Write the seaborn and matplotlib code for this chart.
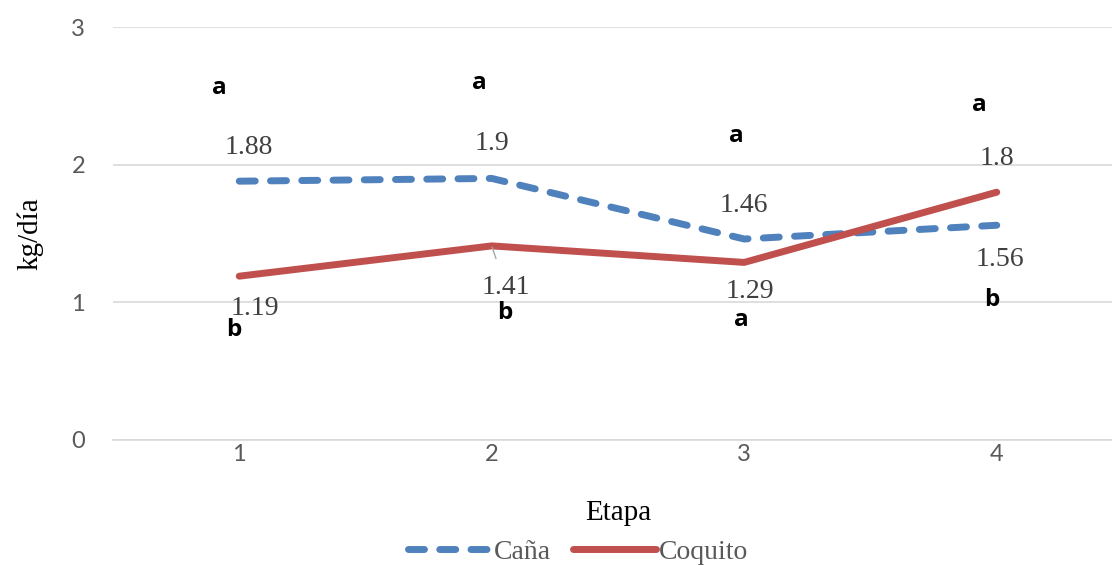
import matplotlib
matplotlib.use("Agg")
import matplotlib.pyplot as plt
import seaborn as sns
import pandas as pd
from matplotlib.lines import Line2D

etapas = [1, 2, 3, 4]
cana = [1.88, 1.90, 1.46, 1.56]
coquito = [1.19, 1.41, 1.29, 1.80]
letras_cana = ["a", "a", "a", "a"]
letras_coquito = ["b", "b", "a", "b"]
series_names = ["Caña", "Coquito"]

df = pd.DataFrame({
    "Etapa": etapas * 2,
    "kg": cana + coquito,
    "serie": [series_names[0]] * 4 + [series_names[1]] * 4,
})

sns.set_theme(style="white")
plt.rcParams["font.family"] = ["Lato", "DejaVu Sans"]

fig = plt.figure(figsize=(11.12, 5.65), dpi=100)
ax = fig.add_axes([113 / 1112, (565 - 440) / 565, (1123 - 113) / 1112, (440 - 27) / 565])

blue = "#4F81BD"
red = "#C0504D"
LW = 5.0
DASH = (2.3, 2.2)
sns.lineplot(data=df, x="Etapa", y="kg", hue="serie", style="serie",
             palette={series_names[0]: blue, series_names[1]: red},
             dashes={series_names[0]: DASH, series_names[1]: ""},
             linewidth=LW, ax=ax, legend=False)
for ln in ax.lines:
    ln.set_dash_capstyle("round")
    ln.set_solid_capstyle("round")

ax.set_xlim(0.5, 4.5)
ax.set_ylim(0, 3)
ax.set_xticks(etapas)
ax.set_yticks([0, 1, 2, 3])
ax.grid(axis="y", color="#D9D9D9", linewidth=1.2)
ax.grid(axis="x", visible=False)
for s in ["top", "right", "left"]:
    ax.spines[s].set_visible(False)
ax.spines["bottom"].set_color("#D9D9D9")
ax.spines["bottom"].set_linewidth(1.2)
ax.tick_params(axis="both", length=0, labelsize=17, colors="#595959")
ax.tick_params(axis="x", pad=3)
ax.tick_params(axis="y", pad=20)
for lab in ax.get_xticklabels() + ax.get_yticklabels():
    lab.set_family(["Lato", "DejaVu Sans"])

serif = ["Liberation Serif", "DejaVu Serif"]
ax.set_xlabel("Etapa", family=serif, fontsize=21, color="black", labelpad=25)
ax.set_ylabel("kg/día", family=serif, fontsize=21, color="black", labelpad=20)

# data labels (offsets in points)
cana_off = [(7, 24), (0, 25), (0, 24), (2, -25)]
coq_off = [(11, -23), (10, -30), (4, -21), (0, 24)]
for x, v, o in zip(etapas, cana, cana_off):
    ax.annotate(f"{v:g}", (x, v), xytext=o, textcoords="offset points",
                ha="center", va="center", family=serif, fontsize=20, color="#404040")
for i, (x, v, o) in enumerate(zip(etapas, coquito, coq_off)):
    kw = {}
    if i == 1:
        kw["arrowprops"] = dict(arrowstyle="-", color="#A6A6A6", lw=1, shrinkA=10, shrinkB=1)
    ax.annotate(f"{v:g}", (x, v), xytext=o, textcoords="offset points",
                ha="center", va="center", family=serif, fontsize=20, color="#404040", **kw)

# significance letters
cana_let_pos = [(0.92, 2.56), (1.95, 2.59), (2.97, 2.21), (3.93, 2.43)]
coq_let_pos = [(0.98, 0.80), (2.05, 0.92), (2.99, 0.87), (3.98, 1.02)]
for t, (x, y) in zip(letras_cana, cana_let_pos):
    ax.text(x, y, t, ha="center", va="center", fontsize=17.5, fontweight="bold",
            color="black", family=["Open Sans", "DejaVu Sans"])
for t, (x, y) in zip(letras_coquito, coq_let_pos):
    ax.text(x, y, t, ha="center", va="center", fontsize=17.5, fontweight="bold",
            color="black", family=["Open Sans", "DejaVu Sans"])

h1 = Line2D([], [], color=blue, lw=LW, dashes=DASH, dash_capstyle="round")
h2 = Line2D([], [], color=red, lw=LW, solid_capstyle="round")
leg = fig.legend([h1, h2], series_names, loc="center", bbox_to_anchor=(578 / 1112, 1 - 552 / 565),
                 ncol=2, frameon=False, prop={"family": serif, "size": 20},
                 handlelength=3.0, handletextpad=0.1, columnspacing=0.8, borderaxespad=0)
for t in leg.get_texts():
    t.set_color("#595959")

fig.savefig("out.png", dpi=100)
